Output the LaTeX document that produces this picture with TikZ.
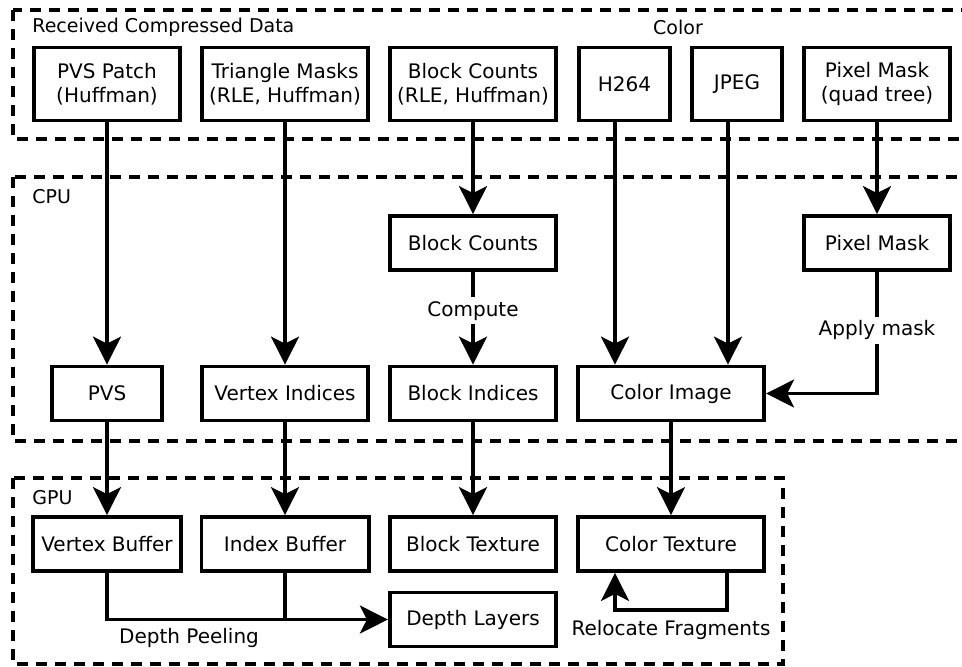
\documentclass[tikz,border=0pt]{standalone}
\usepackage{fontspec}
\setmainfont{DejaVu Sans}
\usetikzlibrary{arrows, arrows.meta}

\begin{document}
\begin{tikzpicture}[x=0.5pt,y=-0.5pt,
  box/.style={draw,line width=1.9pt,minimum width=#1,minimum height=27pt,inner sep=2pt,align=center,font=\fontsize{10}{12}\selectfont},
  tall/.style={minimum height=36.5pt},
  region/.style={line width=1.7pt,dash pattern=on 5.5pt off 4pt},
  regionlabel/.style={anchor=west,inner sep=0pt,font=\fontsize{9.5}{11}\selectfont},
  arr/.style={line width=1.6pt,-{Stealth[length=14pt,width=14pt,inset=3.5pt]}},
  lbl/.style={fill=white,inner sep=2pt,font=\fontsize{10}{12}\selectfont}]
%\draw[step=50,gray,very thin] (0,0) grid (962,666);
\useasboundingbox (0,0) rectangle (962,666);
\clip (0,0) rectangle (962,666);

\draw[region] (13,10) rectangle (1000,139);
\draw[region] (13,177) rectangle (1000,441);
\draw[region] (13,478) rectangle (783,664);
\node[regionlabel] (recv) at (32,27) {Received Compressed Data};
\node[regionlabel,anchor=center] (color) at (678,27) {Color};
\node[regionlabel] (cpu) at (32,197) {CPU};
\node[regionlabel] (gpu) at (32,498) {GPU};

\node[box=73.2pt,tall] (pvspatch) at (107,84) {PVS Patch\\(Huffman)};
\node[box=83.2pt,tall] (trimask) at (285,84) {Triangle Masks\\(RLE, Huffman)};
\node[box=83.2pt,tall] (blkcode) at (473,84) {Block Counts\\(RLE, Huffman)};
\node[box=45.8pt,tall] (h264) at (624.5,84) {H264};
\node[box=45.2pt,tall] (jpeg) at (737,84) {JPEG};
\node[box=73.2pt,tall] (pixcode) at (877,84) {Pixel Mask\\(quad tree)};

\node[box=83.2pt] (blkcount) at (473,243) {Block Counts};
\node[box=73.2pt] (pixmask) at (877,243) {Pixel Mask};
\node[box=55.2pt] (pvs) at (107,393.5) {PVS};
\node[box=83.2pt] (vidx) at (285,393.5) {Vertex Indices};
\node[box=83.2pt] (bidx) at (473,393.5) {Block Indices};
\node[box=93.2pt] (cimg) at (671,393.5) {Color Image};

\node[box=74.2pt] (vbuf) at (107,544) {Vertex Buffer};
\node[box=83.6pt] (ibuf) at (285,544) {Index Buffer};
\node[box=83.2pt] (btex) at (473,544) {Block Texture};
\node[box=93.2pt] (ctex) at (671,544) {Color Texture};
\node[box=83.2pt] (depth) at (473,619.5) {Depth Layers};

\draw[arr] (pvspatch) -- (pvs);
\draw[arr] (trimask) -- (vidx);
\draw[arr] (blkcode) -- (blkcount);
\draw[arr] (blkcount) -- node[lbl,pos=0.42]{Compute} (bidx);
\draw[arr] ([xshift=-28pt]cimg.north |- h264.south) -- ([xshift=-28pt]cimg.north);
\draw[arr] ([xshift=28.5pt]cimg.north |- jpeg.south) -- ([xshift=28.5pt]cimg.north);
\draw[arr] (pixcode) -- (pixmask);
\draw[arr] (pixmask.south) |- node[lbl,pos=0.24]{Apply mask} (cimg.east);

\draw[arr] (pvs) -- (vbuf);
\draw[arr] (vidx) -- (ibuf);
\draw[arr] (bidx) -- (btex);
\draw[arr] (cimg) -- (ctex);

\draw[arr] (vbuf.south) |- node[lbl,below,fill=none,pos=0.646,yshift=-1.5pt]{Depth Peeling} (depth.west);
\draw[line width=1.6pt] (ibuf.south) -- (ibuf.south |- depth.west);
\draw[arr] ([xshift=28pt]ctex.south) -- ++(0,37) -| node[lbl,below,fill=none,pos=0.25,yshift=-2.5pt]{Relocate Fragments} ([xshift=-28pt]ctex.south);
\end{tikzpicture}
\end{document}
